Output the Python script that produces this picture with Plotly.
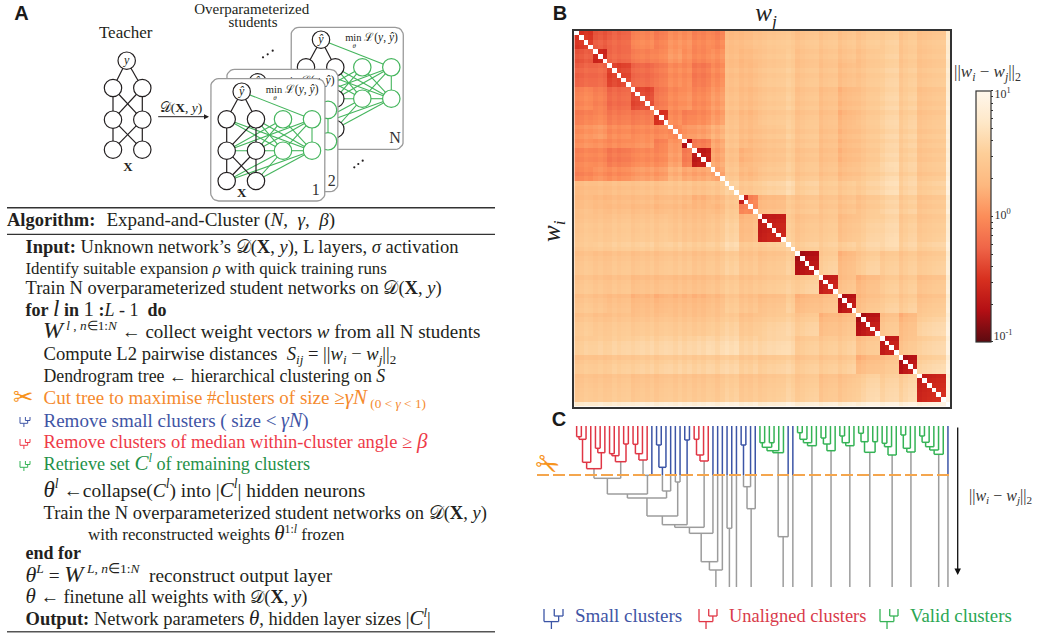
import math
import plotly.graph_objects as go

W, H = 1037, 636
SERIF = "Liberation Serif"

# ---------- heatmap data (log10 distance) ----------
GROUP_SIZES = [4, 3, 5, 5, 3, 3, 2, 4, 3, 3, 2, 2, 6, 2, 5, 4, 4, 5, 4, 4, 6, 1]
GROUP_UPPER = [
    [-.45,-.28,-.24,-.03,-.07,.03,.03,-.03,-.04,.3,.32,.35,.42,.45,.42,.42,.42,.45,.5,.45,.42,.8],
    [-.55,-.22,-.07,-.02,.08,.03,-.02,.03,.32,.3,.32,.42,.48,.4,.4,.4,.42,.52,.46,.42,.82],
    [-.42,-.22,-.12,-.02,-.02,-.12,-.02,.32,.3,.3,.42,.48,.4,.38,.35,.42,.52,.47,.42,.8],
    [-.38,-.12,-.02,.03,-.02,.08,.35,.32,.3,.42,.5,.4,.35,.3,.42,.55,.5,.4,.85],
    [-.5,-.02,-.07,-.02,.08,.35,.3,.28,.42,.48,.4,.35,.28,.42,.55,.5,.4,.85],
    [-.05,.05,.1,.2,.38,.32,.3,.4,.5,.42,.35,.3,.42,.55,.52,.42,.85],
    [-.75,-.1,.15,.38,.3,.28,.38,.48,.42,.35,.3,.42,.55,.52,.42,.85],
    [-.65,.15,.36,.25,.28,.38,.48,.4,.35,.3,.42,.58,.52,.42,.85],
    [.12,.4,.3,.28,.42,.5,.42,.38,.34,.45,.58,.52,.42,.85],
    [.5,.42,.42,.52,.6,.5,.45,.45,.5,.62,.55,.48,.9],
    [-.6,-.05,.3,.45,.42,.4,.4,.42,.55,.5,.42,.85],
    [-.05,.32,.45,.42,.4,.38,.42,.55,.5,.42,.85],
    [-.62,.48,.42,.45,.38,.5,.58,.5,.45,.82],
    [.55,.5,.5,.5,.55,.6,.55,.52,.9],
    [-.72,.5,.32,.5,.48,.48,.47,.85],
    [-.62,.38,.32,.47,.47,.4,.85],
    [-.68,.38,.5,.5,.42,.85],
    [-.68,.42,.33,.55,.9],
    [-.65,.42,.55,.9],
    [-.68,.57,.9],
    [-.58,.9],
    [1.0],
]
LEAF_TEXTURE = [
    -.04,-.02,.02,0, -.02,.01,-.03, -.02,.03,-.01,.02,.03, -.03,0,.02,-.01,.03,
    -.03,.01,.03, .02,-.02,.03, -.02,.02, -.03,.01,-.02,.03, .02,-.03,.03,
    .03,-.01,.02, -.03,.01, -.02,.03, -.05,-.02,.01,0,.02,.03, .02,-.02,
    -.06,-.02,.01,.02,.03, -.05,0,.02,.03, -.07,-.02,.01,.03,
    -.08,-.03,.02,.03,.04, -.04,.01,.02,.03, -.08,-.02,.02,.03,
    -.05,-.02,0,.02,.03,.04, 0,
]

# ---------- dendrogram data: name, left, right, distance, colour code ----------
MERGES = [
    ("a1",0,1,10.7,"r"),("a2","a1",2,13.3,"r"),("a3","a2",3,36.3,"r"),
    ("a4",4,5,22.3,"r"),("a5","a4",6,26.7,"r"),("A","a3","a5",42.7,"r"),
    ("b1",7,8,27.7,"r"),("b2","b1",9,29.7,"r"),("b3",10,11,18,"r"),("B","b2","b3",35.7,"r"),
    ("AB","A","B",52.3,"k"),
    ("c1",12,13,18.3,"r"),("c2","c1",14,27.7,"r"),("c3","c2",15,34,"r"),("c4","c3",16,49.3,"k"),
    ("ABC","AB","c4",68,"k"),
    ("d1",17,18,19,"b"),("d2","d1",19,41.3,"b"),("d3","d2",20,65,"k"),
    ("E","ABC","d3",72,"k"),
    ("f",21,22,56,"k"),("E2","E","f",90,"k"),
    ("h",23,24,14,"b"),("E3","E2","h",98.7,"k"),
    ("i1",25,26,13.3,"r"),("i2","i1",27,29,"r"),("i3","i2",28,35,"r"),
    ("E4","E3","i3",101.3,"k"),("E5","E4",29,107.3,"k"),("E6","E5",30,135.7,"k"),("E7","E6",31,144,"k"),
    ("j",32,33,102.3,"k"),
    ("k1",35,36,19,"b"),("k2","k1",37,60.7,"k"),("k3","k2",38,82.7,"k"),
    ("l1",39,40,16.7,"g"),("l2",41,42,16.7,"g"),("l3","l1","l2",21.3,"g"),("l4","l3",43,24.7,"g"),("l5","l4",44,26.7,"g"),
    ("l6","l5",45,110.7,"k"),
    ("m1",47,48,6.7,"g"),("m2","m1",49,13.3,"g"),("m3","m2",50,16.7,"g"),("m4","m3",51,19.7,"g"),
    ("n1",52,53,12,"g"),("n2","n1",54,18,"g"),("n3","n2",55,24.7,"g"),
    ("o1",56,57,10,"g"),("o2","o1",58,16.7,"g"),("o3","o2",59,19.7,"g"),
    ("p1",60,61,7.3,"g"),("p2","p1",62,15.7,"g"),("p3",63,64,15.7,"g"),("p4","p2","p3",26.3,"g"),
    ("q1",65,66,17.3,"g"),("q2","q1",67,20.7,"g"),("q3","q2",68,29,"g"),
    ("s1",69,70,9,"g"),("s2","s1",71,22.3,"g"),("s3","s2",72,26,"g"),
    ("t1",73,74,10,"g"),("t2","t1",75,16.3,"g"),("t3","t2",76,20.7,"g"),("t4","t3",77,24,"g"),("t5","t4",78,28.3,"g"),
]
ROOTS = ["E7","j",34,"k3","l6",46,"m4","n3","o3","p4","q3","s3","t5",79]
CUT_DISTANCE = 49
MAX_DISTANCE = 161

# ---------- text ----------
D = "𝒟(<b>X</b>, <i>y</i>)"
BIG = lambda s, px: f'<span style="font-size:{px}px">{s}</span>'
ALG_LINES = [
    f"<b>Input:</b> Unknown network’s {D}, L layers, <i>σ</i> activation",
    "Identify suitable expansion <i>ρ</i> with quick training runs",
    f"Train N overparameterized student networks on {D}",
    "<b>for</b> " + BIG("<i>l</i>", 23) + " <b>in</b> " + BIG("1", 21) + " <b>:</b><i>L</i> - 1  <b>do</b>",
    BIG("<i>W</i>", 24) + "<sup> <i>l</i> , <i>n</i>∈1:<i>N</i></sup> ← collect weight vectors <i>w</i> from all N students",
    "Compute L2 pairwise distances  <i>S<sub>ij</sub></i> = ||<i>w<sub>i</sub></i> − <i>w<sub>j</sub></i>||<sub>2</sub>",
    "Dendrogram tree ← hierarchical clustering on <i>S</i>",
    "Cut tree to maximise #clusters of size ≥" + BIG("<i>γN</i>", 21) + "<sub> (0 &lt; <i>γ</i> &lt; 1)</sub>",
    "Remove small clusters ( size &lt; " + BIG("<i>γN</i>", 20) + ")",
    "Remove clusters of median within-cluster angle ≥ " + BIG("<i>β</i>", 21),
    "Retrieve set " + BIG("<i>C</i>", 21) + "<i><sup>l</sup></i> of remaining clusters",
    BIG("<i>θ</i>", 23) + "<i><sup>l</sup></i> ←collapse(<i>C<sup>l</sup></i>) into |" + BIG("<i>C</i>", 21) + "<i><sup>l</sup></i>| hidden neurons",
    f"Train the N overparameterized student networks on {D}",
    "with reconstructed weights " + BIG("<i>θ</i>", 21) + "<sup>1:<i>l</i></sup> frozen",
    "<b>end for</b>",
    BIG("<i>θ</i>", 22) + "<i><sup>L</sup></i> = " + BIG("<i>W</i>", 23) + "<sup> <i>L</i>, <i>n</i>∈1:<i>N</i></sup>  reconstruct output layer",
    BIG("<i>θ</i>", 21) + f" ← finetune all weights with {D}",
    "<b>Output:</b> Network parameters " + BIG("<i>θ</i>", 21) + ", hidden layer sizes |" + BIG("<i>C</i>", 21) + "<i><sup>l</sup></i>|",
]
LEGEND_LABELS = ["Small clusters", "Unaligned clusters", "Valid clusters"]

# ---------- styles ----------
ALG_X = [25.5,25.5,25.5,25.5,43,43.5,43.5,43.5,43.5,43.5,43.5,43.5,43.5,88,25.5,25.5,25.5,25.5]
ALG_Y = [248.3,269.3,289.3,311,333,355.7,377.3,399.3,422.7,443.3,465,491.7,514.3,535.7,554.3,576.7,598.3,620]
ALG_SIZE = [18.5,16.9,18.5,18,19,18.6,17.8,19,19,18.5,18.2,19.4,18.5,16.9,18,19.3,18.4,18.5]
BLACK, ORANGE, BLUE, RED, GREEN = "#231f20", "#f58a2e", "#3f55a5", "#ee3a48", "#1f9148"
ALG_COLOR = [BLACK]*7 + [ORANGE, BLUE, RED, GREEN] + [BLACK]*7
LINE_COL = {"r": "#e03645", "b": "#3c55a6", "g": "#35b356", "k": "#9c9c9c"}
OR_R = [[0,"#5c0a10"],[.125,"#b30f14"],[.25,"#d7301f"],[.375,"#ef6548"],[.5,"#fc8d59"],
        [.625,"#fdb87f"],[.75,"#fdce98"],[.875,"#fee8c8"],[1,"#fff7ec"]]

HX0, HX1, HY0, HY1 = 574.3, 950.3, 30.5, 406.5
DY0, DY1 = 426, 587
DX0, DX1 = 530, 960

fig = go.Figure()

def ptext(x, y, text, size=16, color=BLACK, pos="middle center", family=SERIF):
    fig.add_trace(go.Scatter(x=[x], y=[y], mode="text", text=[text], textposition=pos,
                             textfont=dict(family=family, size=size, color=color),
                             cliponaxis=False, hoverinfo="skip"))

def segs(pairs, color, width=1.2):
    xs, ys = [], []
    for a, b in pairs:
        xs += [a[0], b[0], None]
        ys += [a[1], b[1], None]
    fig.add_trace(go.Scatter(x=xs, y=ys, mode="lines", line=dict(color=color, width=width),
                             cliponaxis=False, hoverinfo="skip"))

def nodes(pts, color, size=17.4, lw=1.2):
    fig.add_trace(go.Scatter(x=[p[0] for p in pts], y=[p[1] for p in pts], mode="markers",
                             marker=dict(size=size, color="white", line=dict(color=color, width=lw)),
                             cliponaxis=False, hoverinfo="skip"))

def card(x0, y0, x1, y1, r=8):
    xs, ys = [], []
    for cx, cy, a0 in [(x1-r,y0+r,-90),(x1-r,y1-r,0),(x0+r,y1-r,90),(x0+r,y0+r,180)]:
        for k in range(7):
            t = math.radians(a0 + 15*k)
            xs.append(cx + r*math.cos(t)); ys.append(cy + r*math.sin(t))
    xs.append(xs[0]); ys.append(ys[0])
    fig.add_trace(go.Scatter(x=xs, y=ys, mode="lines", fill="toself", fillcolor="white",
                             line=dict(color="#9a9a9a", width=1.3), hoverinfo="skip"))

# ---------- teacher ----------
Tx = [113, 142.3]
Ty = [88, 119.7, 149.7]
TY = (126.7, 60.7)
t_edges = [(TY,(Tx[0],Ty[0])),(TY,(Tx[1],Ty[0]))]
for r in range(2):
    for a in range(2):
        for b in range(2):
            t_edges.append(((Tx[a],Ty[r]),(Tx[b],Ty[r+1])))
segs(t_edges, BLACK)
nodes([TY]+[(x,y) for y in Ty for x in Tx], BLACK)
ptext(TY[0], TY[1], "<i>y</i>", 12)
ptext(125.7, 34, "Teacher", 17)
ptext(128, 167.5, "<b>X</b>", 13)
ptext(251.7, 10, "Overparameterized", 15)
ptext(253, 23.3, "students", 15)

# ---------- students ----------
def student(dx, dy, label, lx, ly, box):
    P = {"Y":(241.7,91.7),"A0":(226.7,119.3),"A1":(256,119.3),"B0":(226.7,150.7),"B1":(256,150.7),
         "C0":(226.7,181),"C1":(256,181),"Ga":(283,119.3),"Ha":(312,119.3),"Gb":(283,150.7),"Hb":(312,150.7)}
    P = {k:(v[0]+dx,v[1]+dy) for k,v in P.items()}
    card(*box)
    green = [("Y","Ha"),("A0","Gb"),("A0","Hb"),("A1","Gb"),("A1","Hb"),("B0","Ga"),("B0","Ha"),("B1","Ga"),
             ("B1","Ha"),("B0","Gb"),("C0","Gb"),("C0","Hb"),("C1","Gb"),("C1","Hb"),("Ga","Hb"),("Gb","Ha"),("Ha","Hb"),
             ("Gb","Hb")]
    black = [("Y","A0"),("Y","A1"),("A0","B0"),("A1","B1"),("A1","B0"),("B0","C0"),("B1","C1"),("B0","C1"),("B1","C0")]
    segs([(P[a],P[b]) for a,b in green], "#45b55d", 1.1)
    segs([(P[a],P[b]) for a,b in black], BLACK, 1.2)
    nodes([P[k] for k in ["Y","A0","A1","B0","B1","C0","C1"]], BLACK)
    nodes([P[k] for k in ["Ga","Ha","Gb","Hb"]], "#45b55d")
    ptext(P["Y"][0], P["Y"][1], "<i>ŷ</i>", 12)
    ptext(274+dx, 90.5+dy, "min", 10.5)
    ptext(275+dx, 98+dy, "<i>θ</i>", 7)
    ptext(301.7+dx, 90.5+dy, "ℒ(<i>y</i>, <i>ŷ</i>)", 11.5)
    ptext(lx, ly, label, 16, "#333333")

student(79.3, -52, "N", 395, 139.3, (291,27.3,403.3,149.3))
student(16, -9.4, "2", 331.7, 181.7, (226.7,69.3,338,191.7))
student(0, 0, "1", 315.7, 190.7, (210.7,78.7,325,201))
ptext(241.7, 194, "<b>X</b>", 13)
fig.add_trace(go.Scatter(x=[263,267.7,272.7,354.3,358.3,362.7], y=[57.3,54.3,50.7,167.3,164,160.7],
                         mode="markers", marker=dict(size=2.2,color=BLACK), hoverinfo="skip"))
ptext(181, 108.5, D, 13.5)

# ---------- algorithm box ----------
segs([((7,207.7),(495,207.7))], "#333333", 1.4)
segs([((7,234.3),(495,234.3))], "#333333", 1.2)
segs([((7,631.7),(495,631.7))], "#555555", 1.4)
ptext(7, 221.7, "<b>Algorithm:</b>", 18.5, pos="middle right")
ptext(106.5, 221.7, "Expand-and-Cluster (<i>N</i>,  <i>γ</i>,  <i>β</i>)", 19, pos="middle right")
for t, x, y, s, c in zip(ALG_LINES, ALG_X, ALG_Y, ALG_SIZE, ALG_COLOR):
    ptext(x, y, t, s, c, pos="middle right")

# ---------- tree icons ----------
def icon(x0, y0, w, h, color, lw=1.3):
    P = lambda u, v: (x0+u*w, y0+v*h)
    segs([(P(0,0),P(0,.63)),(P(0,.63),P(.77,.63)),(P(.77,.63),P(.77,.35)),(P(.54,.35),P(1,.35)),
          (P(.54,0),P(.54,.35)),(P(1,0),P(1,.35)),(P(.39,.63),P(.39,1))], color, lw)

icon(20, 417, 10, 10, BLUE, 1)
icon(20, 439, 10, 10, RED, 1)
icon(20, 461, 10, 10, "#35b356", 1)
icon(544, 609, 19, 20, LINE_COL["b"])
icon(699, 609, 18, 20, LINE_COL["r"])
icon(880, 609, 18, 20, LINE_COL["g"])
ptext(575, 617, LEGEND_LABELS[0], 19, "#3f55a5", "middle right")
ptext(729, 617, LEGEND_LABELS[1], 18.4, "#d93a4a", "middle right")
ptext(910, 617, LEGEND_LABELS[2], 18.8, "#2aa653", "middle right")

# ---------- colour bar labels, titles ----------
ptext(1002.5, 95, "10<sup>1</sup>", 12, "#333333")
ptext(1002.5, 216, "10<sup>0</sup>", 12, "#333333")
ptext(1003, 336.7, "10<sup>-1</sup>", 12, "#333333")
ptext(987.5, 72.7, "||<i>w<sub>i</sub></i> − <i>w<sub>j</sub></i>||<sub>2</sub>", 17, "#333333")
ptext(1000.5, 497, "||<i>w<sub>i</sub></i> − <i>w<sub>j</sub></i>||<sub>2</sub>", 16, "#333333")
ptext(766, 15, "<i>w<sub>j</sub></i>", 25, "#222222")
for t, x, y in [("A",21.5,14.5),("B",560,14.5),("C",559,420.5)]:
    ptext(x, y, f"<b>{t}</b>", 20, "#1a1a1a", family="Liberation Sans")

# ---------- heatmap ----------
idx = []
for g, n in enumerate(GROUP_SIZES):
    idx += [g]*n
N = len(idx)
Z = []
for i in range(N):
    row = []
    for j in range(N):
        if i == j:
            row.append(None)
        else:
            a, b = sorted((idx[i], idx[j]))
            row.append(GROUP_UPPER[a][b-a] + LEAF_TEXTURE[i] + LEAF_TEXTURE[j])
    Z.append(row)
TICKS = [-1,-.699,-.523,-.398,-.301,-.222,-.155,-.097,-.046,0,.301,.477,.602,.699,.778,.845,.903,.954,1]
fig.add_trace(go.Heatmap(z=Z, x=list(range(N)), y=list(range(N)), xaxis="x2", yaxis="y2",
                         colorscale=OR_R, zmin=-1, zmax=1, hoverinfo="skip",
                         colorbar=dict(x=976/W, xanchor="left", xpad=0, y=1-216.4/H, yanchor="middle", ypad=0,
                                       thickness=15, thicknessmode="pixels", len=250.7, lenmode="pixels",
                                       outlinecolor="#333333", outlinewidth=1.2,
                                       tickvals=TICKS, ticktext=[""]*len(TICKS), ticks="outside",
                                       ticklen=2, tickwidth=1, tickcolor="#333333")))

# ---------- dendrogram ----------
pos = {i: float(i) for i in range(N)}
hgt = {i: 0.0 for i in range(N)}
col = {i: "leaf" for i in range(N)}
lines = {"r": [], "b": [], "g": [], "k": []}
def vert(xv, h0, h1, c):
    lines[c].append(((xv, h0), (xv, h1)))
def stem(node, top, parent_col):
    c = col[node]
    xv, h0 = pos[node], hgt[node]
    if parent_col == "k" and c in ("leaf", "b"):
        vert(xv, h0, min(CUT_DISTANCE, top), "b")
        if top > CUT_DISTANCE:
            vert(xv, CUT_DISTANCE, top, "k")
    else:
        vert(xv, h0, top, parent_col)
for name, l, r, h, c in MERGES:
    pos[name] = (pos[l] + pos[r]) / 2
    hgt[name] = h
    col[name] = c
    stem(l, h, c); stem(r, h, c)
    lines[c].append(((pos[l], h), (pos[r], h)))
for rt in ROOTS:
    stem(rt, MAX_DISTANCE, "k")
for c in ["k", "r", "b", "g"]:
    xs, ys = [], []
    for a, b in lines[c]:
        xs += [a[0], b[0], None]; ys += [a[1], b[1], None]
    fig.add_trace(go.Scatter(x=xs, y=ys, mode="lines", xaxis="x3", yaxis="y3", cliponaxis=False,
                             line=dict(color=LINE_COL[c], width=1.5), hoverinfo="skip"))
LEAF_STEP = (HX1 - HX0) / N
leaf_of = lambda px: (px - HX0) / LEAF_STEP - .5
fig.add_trace(go.Scatter(x=[leaf_of(537), leaf_of(951.7)], y=[CUT_DISTANCE, CUT_DISTANCE], mode="lines",
                         xaxis="x3", yaxis="y3", cliponaxis=False,
                         line=dict(color="#f4a64e", width=2, dash="12px,4px"), hoverinfo="skip"))

# ---------- layout ----------
hidden = dict(visible=False, fixedrange=True)
fig.update_layout(
    width=W, height=H, margin=dict(l=0, r=0, t=0, b=0, pad=0), autosize=False,
    paper_bgcolor="white", plot_bgcolor="white", showlegend=False,
    xaxis=dict(range=[0, W], domain=[0, 1], **hidden),
    yaxis=dict(range=[H, 0], domain=[0, 1], **hidden),
    xaxis2=dict(range=[-.5, N-.5], domain=[HX0/W, HX1/W], anchor="y2", showgrid=False, zeroline=False,
                showticklabels=False, ticks="", showline=True, mirror=True, linecolor="#333333", linewidth=1.5),
    yaxis2=dict(range=[N-.5, -.5], domain=[1-HY1/H, 1-HY0/H], anchor="x2", showgrid=False, zeroline=False,
                showticklabels=False, ticks="", showline=True, mirror=True, linecolor="#333333", linewidth=1.5),
    xaxis3=dict(range=[leaf_of(DX0), leaf_of(DX1)], domain=[DX0/W, DX1/W], anchor="y3", **hidden),
    yaxis3=dict(range=[MAX_DISTANCE, 0], domain=[1-DY1/H, 1-DY0/H], anchor="x3", **hidden),
    annotations=[
        dict(x=209, y=116.7, ax=156.7, ay=116.7, xref="x", yref="y", axref="x", ayref="y", text="",
             showarrow=True, arrowhead=2, arrowsize=1, arrowwidth=1, arrowcolor=BLACK),
        dict(x=957.7, y=575, ax=957.7, ay=426, xref="x", yref="y", axref="x", ayref="y", text="",
             showarrow=True, arrowhead=2, arrowsize=1, arrowwidth=1.3, arrowcolor="#111111"),
        dict(x=553, y=231, xref="x", yref="y", text="<i>w<sub>i</sub></i>", showarrow=False, textangle=-90,
             font=dict(family=SERIF, size=25, color="#222222")),
        dict(x=23, y=397, xref="x", yref="y", text="✂", showarrow=False,
             font=dict(family="DejaVu Sans", size=24, color="#f7941d")),
        dict(x=547, y=464, xref="x", yref="y", text="✂", showarrow=False, textangle=25,
             font=dict(family="DejaVu Sans", size=28, color="#f7941d")),
    ],
)
fig.write_html("out.html", config=dict(displayModeBar=False), default_width=f"{W}px", default_height=f"{H}px",
               post_script="document.body.style.margin='0';document.body.style.overflow='hidden';")
